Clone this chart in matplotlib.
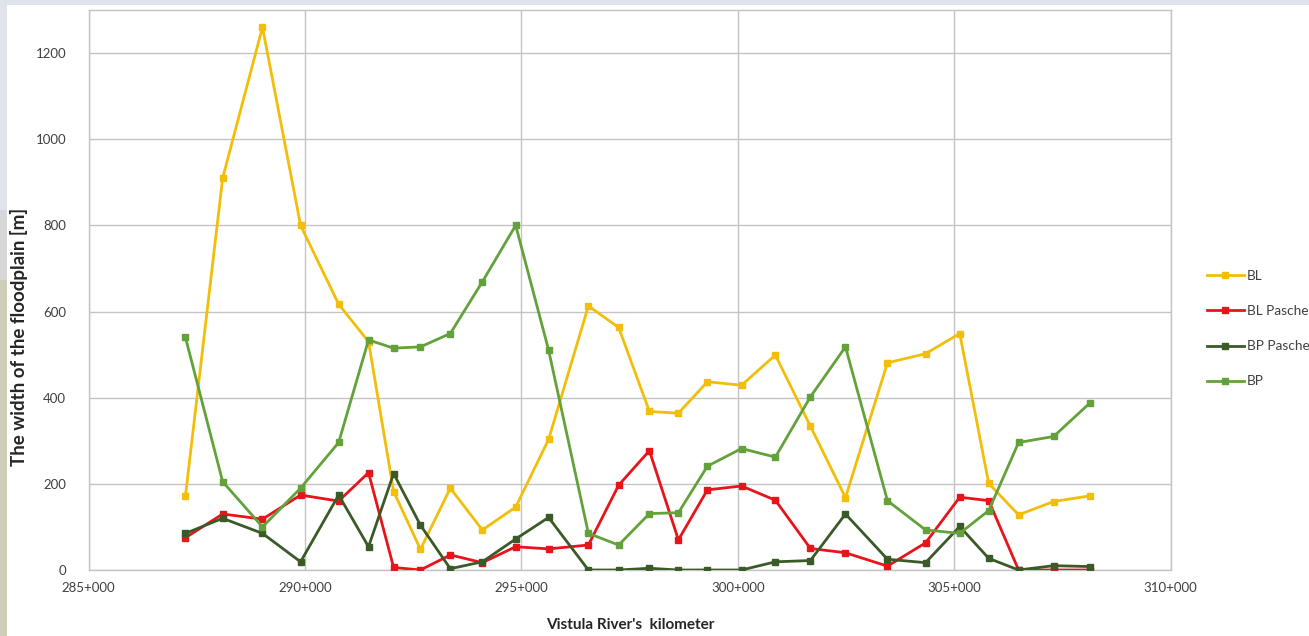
import matplotlib
matplotlib.use("Agg")
import matplotlib.pyplot as plt
from matplotlib.patches import Rectangle
from matplotlib.ticker import FuncFormatter

# ---- data ----
km = [287.24, 288.10, 289.02, 289.90, 290.78, 291.47, 292.05, 292.67, 293.36, 294.10,
      294.87, 295.63, 296.55, 297.25, 297.96, 298.63, 299.30, 300.09, 300.87, 301.68,
      302.49, 303.46, 304.34, 305.13, 305.80, 306.49, 307.30, 308.13]
bl = [172, 910, 1260, 800, 617, 530, 182, 48, 190, 93,
      146, 303, 613, 563, 368, 364, 437, 429, 499, 334,
      168, 481, 502, 549, 201, 128, 159, 172]
bl_pasche = [75, 130, 118, 174, 160, 226, 6, 0, 35, 17,
             54, 49, 58, 197, 277, 70, 186, 195, 162, 50,
             40, 9, 63, 169, 161, 0, 0, 0]
bp_pasche = [85, 120, 85, 19, 174, 54, 224, 104, 3, 19,
             72, 122, 0, 0, 4, 0, 0, 0, 19, 22,
             130, 25, 17, 101, 27, 0, 10, 8]
bp = [540, 205, 100, 190, 296, 534, 515, 518, 549, 669,
      800, 511, 85, 58, 131, 133, 241, 282, 262, 402,
      518, 161, 93, 85, 138, 296, 310, 387]

series_names = ["BL", "BL Pasche", "BP Pasche", "BP"]
series_colors = ["#F2BE0A", "#E8141C", "#3A5A28", "#63A23A"]
x_ticks = [285, 290, 295, 300, 305, 310]
y_ticks = [0, 200, 400, 600, 800, 1000, 1200]

plt.rcParams['font.family'] = ['Lato', 'DejaVu Sans']

W, H = 1309, 636
fig = plt.figure(figsize=(W / 100, H / 100), dpi=100)
fig.patch.set_facecolor("#dfe3eb")

# white chart area and left landscape strip
fig.patches.append(Rectangle((7 / W, 0), 1, 1 - 5 / H, transform=fig.transFigure,
                             facecolor="white", edgecolor="none", zorder=-5))
fig.patches.append(Rectangle((0, 0), 7 / W, 1 - 280 / H, transform=fig.transFigure,
                             facecolor="#cfcdb8", edgecolor="none", zorder=-5))
fig.patches.append(Rectangle((0, 1 - 280 / H), 7 / W, 70 / H, transform=fig.transFigure,
                             facecolor="#d5d8d6", edgecolor="none", zorder=-5))

ax = fig.add_axes([88.5 / W, (H - 570) / H, 1082 / W, 560 / H])
ax.set_zorder(2)
ax.set_facecolor("white")

for vals, name, col in zip([bl, bl_pasche, bp_pasche, bp], series_names, series_colors):
    ax.plot(km, vals, color=col, lw=2.0, marker="s", markersize=4.2,
            markeredgecolor=col, markerfacecolor=col, label=name, zorder=3)

ax.set_xlim(285, 310)
ax.set_ylim(0, 1300)
ax.set_xticks(x_ticks)
ax.set_yticks(y_ticks)
ax.xaxis.set_major_formatter(FuncFormatter(lambda v, p: f"{int(round(v))}+000"))
ax.grid(True, color="#c4c4c6", lw=1.0, zorder=0)
ax.set_axisbelow(True)
ax.tick_params(axis="both", length=0, labelsize=9.5, colors="#404040")
ax.tick_params(axis="y", pad=16)
ax.tick_params(axis="x", pad=9)
for s in ax.spines.values():
    s.set_color("#c4c4c6")
    s.set_linewidth(1.0)

fig.text(630 / W, 1 - 625 / H, "Vistula River's  kilometer", ha="center", va="center",
         fontsize=11, fontweight="bold", color="#262626")
fig.text(19 / W, 1 - 337 / H, "The width of the floodplain [m]", ha="center", va="center",
         rotation=90, fontsize=13.5, fontweight="bold", color="#262626")

handles, labels = ax.get_legend_handles_labels()
fig.legend(handles, labels, loc="upper left", bbox_to_anchor=(1207 / W, 1 - 270 / H),
           frameon=False, fontsize=9.8, labelspacing=1.7, handlelength=2.7,
           handletextpad=0.25, borderpad=0, borderaxespad=0, labelcolor="#404040")

fig.savefig("out.png", dpi=100, facecolor=fig.get_facecolor())
